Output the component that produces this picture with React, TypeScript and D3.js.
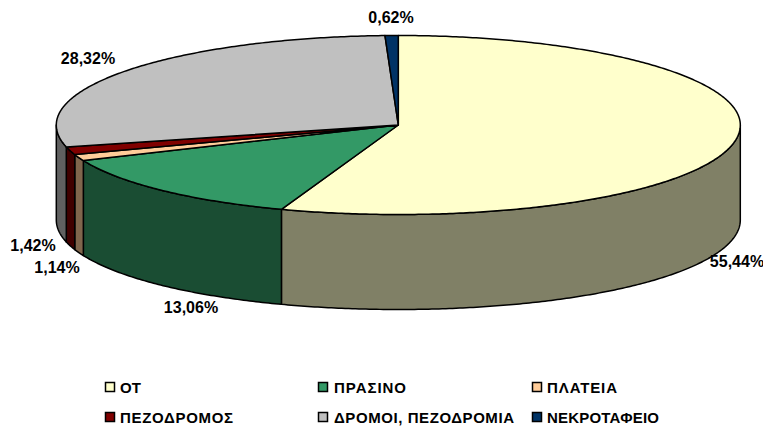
import React from "react";
import * as d3 from "d3";

const categories = ["ΟΤ", "ΠΡΑΣΙΝΟ", "ΠΛΑΤΕΙΑ", "ΠΕΖΟΔΡΟΜΟΣ", "ΔΡΟΜΟΙ, ΠΕΖΟΔΡΟΜΙΑ", "ΝΕΚΡΟΤΑΦΕΙΟ"];
const shares = [55.44, 13.06, 1.14, 1.42, 28.32, 0.62];
const valueLabels = ["55,44%", "13,06%", "1,14%", "1,42%", "28,32%", "0,62%"];
const topColors = ["#FFFFCC", "#339966", "#FFCC99", "#800000", "#C0C0C0", "#003366"];
const sideColors = ["#808066", "#1A4D33", "#80664D", "#400000", "#606060", "#001A33"];

const labelCentres: [number, number][] = [[737, 261], [191, 307], [57, 267], [33, 245], [88, 58], [391, 17]];
const legendMarkerX = [105.5, 318.5, 532.5];
const legendTextX = [120, 334, 547];
const legendY = [387, 417];
const legendTextWidths = [21, 72, 70, 113, 180, 112];

const W = 763, H = 426, CX = 398.3, CY = 125, RX = 342, RY = 89.5, DEPTH = 95;
const FRONT_STRETCH = 0.022;

const TAU = Math.PI * 2;
const sx = d3.scaleLinear().domain([-1, 1]).range([CX - RX, CX + RX]);
const sy = d3.scaleLinear().domain([-1, 1]).range([CY - RY, CY + RY]);
// the original is drawn in perspective: the nearer rim is slightly wider
const px = (a: number) => {
  const c = Math.cos(a);
  return sx(Math.sin(a) * (1 + (c < 0 ? FRONT_STRETCH * c * c : 0)));
};
const py = (a: number) => sy(-Math.cos(a));

function samples(a0: number, a1: number): number[] {
  const n = Math.max(2, Math.ceil(Math.abs(a1 - a0) / 0.01));
  return d3.range(n + 1).map((i) => a0 + ((a1 - a0) * i) / n);
}
const line = d3.line<[number, number]>().x((d) => d[0]).y((d) => d[1]);

const pieGen = d3.pie<number>().sort(null).startAngle(0).endAngle(TAU);
const arcs = pieGen(shares);

function topPath(a0: number, a1: number): string {
  const pts = samples(a0, a1).map((a) => [px(a), py(a)] as [number, number]);
  return line([[CX, CY], ...pts])! + "Z";
}
function sidePath(a0: number, a1: number): string | null {
  const lo = Math.max(a0, Math.PI / 2);
  const hi = Math.min(a1, (3 * Math.PI) / 2);
  if (hi <= lo) return null;
  const upper = samples(lo, hi).map((a) => [px(a), py(a)] as [number, number]);
  const lower = samples(hi, lo).map((a) => [px(a), py(a) + DEPTH] as [number, number]);
  return line([...upper, ...lower])! + "Z";
}

export default function App() {
  return (
    <svg
      width={W}
      height={H}
      viewBox={`0 0 ${W} ${H}`}
      style={{ position: "absolute", left: 0, top: 0, background: "#fff" }}
      fontFamily="'Liberation Sans', Arial, sans-serif"
    >
      {arcs.map((d, i) => {
        const p = sidePath(d.startAngle, d.endAngle);
        return p ? <path key={i} d={p} fill={sideColors[i]} stroke="#000" strokeWidth={1.5} strokeLinejoin="round" /> : null;
      })}
      {arcs.map((d, i) => (
        <path key={i} d={topPath(d.startAngle, d.endAngle)} fill={topColors[i]} stroke="#000" strokeWidth={1.5} strokeLinejoin="round" />
      ))}
      {valueLabels.map((t, i) => (
        <text key={t} x={labelCentres[i][0]} y={labelCentres[i][1]} textAnchor="middle" dominantBaseline="central" fontSize={16} fontWeight="bold" fill="#000">
          {t}
        </text>
      ))}
      {categories.map((c, i) => {
        const col = i % 3;
        const y = legendY[Math.floor(i / 3)];
        return (
          <g key={c}>
            <rect x={legendMarkerX[col]} y={y - 4.5} width={9} height={9} fill={topColors[i]} stroke="#000" strokeWidth={1.5} />
            <text x={legendTextX[col]} y={y} dominantBaseline="central" fontSize={15} fontWeight="bold" fill="#000" textLength={legendTextWidths[i]} lengthAdjust="spacing">
              {c}
            </text>
          </g>
        );
      })}
    </svg>
  );
}
